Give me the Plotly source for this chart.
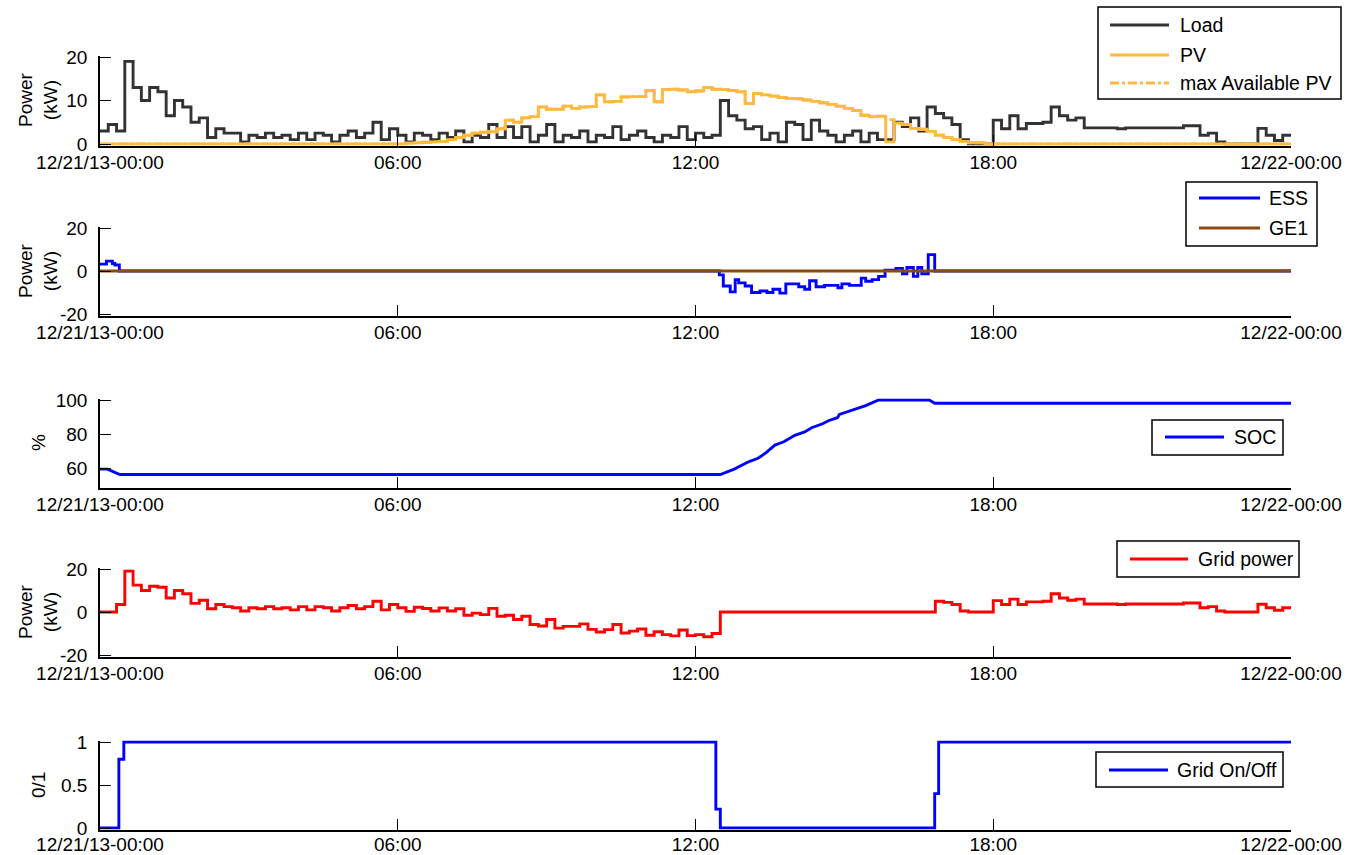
import pandas as pd
import plotly.graph_objects as go

W, H = 1356, 855
L, R = 100, 1291  # horizontal extent of the axes, px

DAY0 = pd.Timestamp("2013-12-21 00:00")

# ---- data -----------------------------------------------------------------
# 10-minute samples from 00:00 to 24:00 (145 points, step-held)
load_kw = [
    3, 4.5, 3, 19, 13, 10, 13, 12, 6.5, 10,
    8.5, 5, 6, 1.5, 3.5, 2.5, 2.5, 0.5, 2, 1.5,
    2.5, 1.5, 2, 1, 2.5, 1, 2.5, 2, 0.5, 2,
    3, 1.5, 2.5, 5, 1, 3.5, 2, 0.5, 2.5, 2,
    1, 2.5, 1.5, 3, 0.5, 2, 1.5, 4.5, 1.5, 4,
    1.5, 4, 0.5, 2, 4.5, 0.5, 2, 1.5, 3, 0.5,
    2, 1.5, 4, 1, 2, 3, 1.5, 0.5, 2, 1.5,
    4, 1, 2.5, 1.5, 2, 10, 6.5, 5.5, 3.5, 4,
    1, 2.5, 0.5, 5, 4.5, 1, 5.5, 3, 2, 0.5,
    2, 3, 0.5, 2.5, 1, 1, 5, 4, 6, 3,
    8.5, 7, 6, 4.5, 1, 0, 0, 0, 5.5, 3.5,
    6.5, 3.5, 4.7, 4.7, 5, 8.5, 6.5, 5.5, 6, 3.7,
    3.7, 3.7, 3.7, 3.5, 3.7, 3.7, 3.7, 3.7, 3.7, 3.7,
    3.7, 4.2, 4.2, 2, 2.5, 0.5, 0, 0, 0, 0,
    3.6, 2, 0.8, 2, 2,
]

pv_kw = [
    0, 0, 0, 0, 0, 0, 0, 0, 0, 0,
    0, 0, 0, 0, 0, 0, 0, 0, 0, 0,
    0, 0, 0, 0, 0, 0, 0, 0, 0, 0,
    0, 0, 0, 0, 0, 0, 0,
    0.2, 0.3, 0.4, 0.5, 0.6, 1.0, 1.5, 2.0, 2.5, 2.7, 2.8,
    3.5, 5.5, 5.0, 6.0, 6.3, 8.5, 8.0, 8.0, 8.7, 8.2, 8.5, 8.6,
    11.3, 9.7, 9.8, 10.8, 10.9, 10.9, 12.3, 9.7, 12.5, 12.6, 12.4, 12.0,
    12.2, 13.0, 12.6, 12.5, 12.3, 12.0, 9.3, 11.6, 11.3, 11.0, 10.7, 10.5,
    10.4, 10.1, 9.8, 9.5, 9.1, 8.7, 8.2, 7.7, 6.6, 6.3, 6.4, 0.5,
    4.8, 4.5, 3.6, 3.4, 2.9, 2.0, 1.5, 1.0, 0.6, 0.3, 0.3, 0,
    0, 0, 0, 0, 0, 0, 0, 0, 0, 0,
    0, 0, 0, 0, 0, 0, 0, 0, 0, 0,
    0, 0, 0, 0, 0, 0, 0, 0, 0, 0,
    0, 0, 0, 0, 0, 0, 0,
]

pv_max_kw = [
    0, 0, 0, 0, 0, 0, 0, 0, 0, 0,
    0, 0, 0, 0, 0, 0, 0, 0, 0, 0,
    0, 0, 0, 0, 0, 0, 0, 0, 0, 0,
    0, 0, 0, 0, 0, 0, 0,
    0.2, 0.3, 0.4, 0.5, 0.6, 1.0, 1.5, 2.0, 2.5, 2.7, 2.8,
    3.5, 5.5, 5.0, 6.0, 6.3, 8.5, 8.0, 8.0, 8.7, 8.2, 8.5, 8.6,
    11.3, 9.7, 9.8, 10.8, 10.9, 10.9, 12.3, 9.7, 12.5, 12.6, 12.4, 12.0,
    12.2, 13.0, 12.6, 12.5, 12.3, 12.0, 9.3, 11.6, 11.3, 11.0, 10.7, 10.5,
    10.4, 10.1, 9.8, 9.5, 9.1, 8.7, 8.2, 7.7, 6.6, 6.3, 6.4, 5.6,
    4.8, 4.5, 3.6, 3.4, 2.9, 2.0, 1.5, 1.0, 0.6, 0.3, 0.3, 0,
    0, 0, 0, 0, 0, 0, 0, 0, 0, 0,
    0, 0, 0, 0, 0, 0, 0, 0, 0, 0,
    0, 0, 0, 0, 0, 0, 0, 0, 0, 0,
    0, 0, 0, 0, 0, 0, 0,
]

grid_kw = [
    0, 0, 3.5, 19, 12.5, 10, 12, 11.5, 6.5, 10,
    8.5, 4, 5.5, 1.5, 3.5, 2.5, 2, 0.5, 2, 1.5,
    2.5, 1.5, 2, 1, 2.5, 1, 2.5, 2, 0.5, 2,
    3, 1.5, 2.5, 5, 1, 3.5, 2, 0.3, 2.2, 1.6,
    0.5, 1.9, 0.5, 1.5, -1.5, -0.5, -1.2, 1.7, -2, -1.5,
    -3.5, -2, -5.8, -6.5, -3.5, -7.5, -6.7, -6.7, -5.5, -8.1,
    -9.3, -8.2, -5.8, -9.8, -8.9, -7.9, -10.8, -9.2, -10.5, -11.1,
    -8.4, -11, -10.5, -11.5, -10, 0, 0, 0, 0, 0,
    0, 0, 0, 0, 0, 0, 0, 0, 0, 0,
    0, 0, 0, 0, 0, 0, 0, 0, 0, 0,
    0, 5, 4.5, 3.5, 0.5, 0, 0, 0, 5.3, 3.5,
    6, 3.5, 4.7, 4.7, 5, 8.5, 6.5, 5.5, 6, 3.7,
    3.7, 3.7, 3.7, 3.5, 3.7, 3.7, 3.7, 3.7, 3.7, 3.7,
    3.7, 4.2, 4.2, 2, 2.5, 0.5, 0, 0, 0, 0,
    3.6, 2, 0.8, 2, 2,
]

# battery (ESS) power, step-held from each time (hours)
ess_hours = [0, 0.13, 0.25, 0.3, 0.39, 12.48, 12.56, 12.7, 12.8, 12.87,
             13.0, 13.13, 13.3, 13.44, 13.56, 13.7, 13.82, 14.08, 14.2, 14.3,
             14.43, 14.6, 14.87, 14.95, 15.1, 15.34, 15.43, 15.56, 15.69, 15.82,
             16.04, 16.17, 16.26, 16.39, 16.48, 16.56, 16.69, 16.82, 24]
ess_kw = [3.2, 4.6, 3.5, 2.8, 0, -1.8, -7, -9.7, -4, -5.5,
          -7, -10, -9.3, -10, -8.5, -10.3, -6, -7.3, -8.5, -4.5,
          -7.3, -6.7, -7.8, -6, -6.7, -3.3, -4.8, -4, -2.5, 0.4,
          1.2, -1.3, 1.6, -2.5, 1.6, -1.3, 7.6, 0, 0]

ge1_hours = [0, 24]
ge1_kw = [0, 0]

# state of charge
soc_hours = [0, 0.15, 0.4, 12.5, 12.78, 13.08, 13.26, 13.43, 13.6, 13.78,
             14.0, 14.2, 14.34, 14.56, 14.69, 14.86, 14.9, 15.17, 15.43, 15.69,
             16.71, 16.82, 24]
soc_pct = [59.8, 59.8, 56.7, 56.7, 59.8, 64.2, 66.1, 69.5, 73.8, 75.7,
           79.5, 81.4, 83.9, 86.2, 88.1, 89.7, 91.6, 94.3, 96.7, 100,
           100, 98.1, 98.1]

# grid connection status
onoff_hours = [0, 0.38, 0.48, 12.41, 12.5, 16.82, 16.9, 24]
grid_onoff = [0, 0.8, 1, 0.22, 0, 0.4, 1, 1]

tick_hours = [0, 6, 12, 18, 24]
tick_text = ["12/21/13-00:00", "06:00", "12:00", "18:00", "12/22-00:00"]

# ---- helpers --------------------------------------------------------------
t10 = pd.date_range(DAY0, periods=len(load_kw), freq="10min")


def at(hours):
    return [DAY0 + pd.Timedelta(hours=h) for h in hours]


def px(x, y):
    return (x - L) / (R - L), 1 - y / H


FONT = "Liberation Sans, Arial, Helvetica, sans-serif"
C_LOAD = "#333333"
C_PV = "#FFB940"
C_BLUE = "#0000FF"
C_BROWN = "#8C4A12"
C_RED = "#FF0000"
LW = 2.9

# panels: (top px, bottom px, value at top, value at bottom, tick values, tick text)
panels = [
    (57, 144, 20, 0, [0, 10, 20], ["0", "10", "20"]),
    (228, 314, 20, -20, [-20, 0, 20], ["-20", "0", "20"]),
    (400, 486, 100, 50, [60, 80, 100], ["60", "80", "100"]),
    (569, 655, 20, -20, [-20, 0, 20], ["-20", "0", "20"]),
    (742, 828, 1, 0, [0, 0.5, 1], ["0", "0.5", "1"]),
]

fig = go.Figure()


def add(k, x, y, color, shape="hv", dash="solid"):
    fig.add_trace(go.Scatter(
        x=x, y=y, mode="lines", showlegend=False, hoverinfo="skip",
        line=dict(color=color, width=LW, shape=shape, dash=dash),
        xaxis="x" if k == 1 else f"x{k}", yaxis="y" if k == 1 else f"y{k}",
    ))


add(1, t10, load_kw, C_LOAD)
add(1, t10, pv_kw, C_PV)
add(1, t10, pv_max_kw, C_PV, dash="dashdot")
add(2, at(ess_hours), ess_kw, C_BLUE)
add(2, at(ge1_hours), ge1_kw, C_BROWN)
add(3, at(soc_hours), soc_pct, C_BLUE, shape="linear")
add(4, t10, grid_kw, C_RED)
add(5, at(onoff_hours), grid_onoff, C_BLUE)

layout = dict(
    width=W, height=H, autosize=False,
    margin=dict(l=L, r=W - R, t=0, b=0, pad=0, autoexpand=False),
    paper_bgcolor="white", plot_bgcolor="white",
    font=dict(family=FONT, size=19, color="black"),
    shapes=[], annotations=[],
)

PAD = 1.5
for k, (top, bot, vtop, vbot, tv, tt) in enumerate(panels, start=1):
    ppu = (bot - top) / (vtop - vbot)
    sfx = "" if k == 1 else str(k)
    layout[f"xaxis{sfx}"] = dict(
        domain=[0, 1], anchor=f"y{sfx}", automargin=False,
        range=[DAY0, DAY0 + pd.Timedelta(hours=24)],
        tickmode="array", tickvals=at(tick_hours), ticktext=tick_text,
        ticks="inside", ticklen=11, tickwidth=1.3, tickcolor="black",
        showline=True, linecolor="black", linewidth=1.5,
        showgrid=False, zeroline=False,
        ticklabelstandoff=-3 if k == len(panels) else -1,
        tickfont=dict(size=19, family=FONT, color="black"),
    )
    layout[f"yaxis{sfx}"] = dict(
        domain=[1 - (bot + PAD) / H, 1 - (top - PAD) / H], anchor=f"x{sfx}",
        automargin=False,
        range=[vbot - PAD / ppu, vtop + PAD / ppu],
        tickmode="array", tickvals=tv, ticktext=tt,
        ticks="inside", ticklen=11, tickwidth=1.3, tickcolor="black",
        showline=True, linecolor="black", linewidth=1.5,
        showgrid=False, zeroline=False, ticklabelstandoff=7,
        tickfont=dict(size=19, family=FONT, color="black"),
    )

# y-axis titles
ytitles = [("Power<br>(kW)", 100), ("Power<br>(kW)", 271), ("%", 443),
           ("Power<br>(kW)", 612), ("0/1", 785)]
for text, yc in ytitles:
    xp, yp = px(38, yc)
    layout["annotations"].append(dict(
        text=text, x=xp, y=yp, xref="paper", yref="paper", showarrow=False,
        textangle=-90, xanchor="center", yanchor="middle",
        font=dict(size=19, family=FONT, color="black"),
    ))

# legend boxes: (box px, line x0, line x1, text x, entries)
legends = [
    ((1098, 7, 1341, 99), 1110, 1169, 1178,
     [("Load", C_LOAD, "solid", 25), ("PV", C_PV, "solid", 55),
      ("max Available PV", C_PV, "dashdot", 83)]),
    ((1186, 182, 1317, 246), 1199, 1260, 1267,
     [("ESS", C_BLUE, "solid", 198), ("GE1", C_BROWN, "solid", 228)]),
    ((1152, 420, 1283, 455), 1165, 1224, 1232,
     [("SOC", C_BLUE, "solid", 437)]),
    ((1117, 541, 1299, 577), 1130, 1188, 1196,
     [("Grid power", C_RED, "solid", 559)]),
    ((1096, 752, 1283, 787), 1109, 1168, 1175,
     [("Grid On/Off", C_BLUE, "solid", 770)]),
]
for (bx0, by0, bx1, by1), lx0, lx1, tx, entries in legends:
    x0, y0 = px(bx0, by0)
    x1, y1 = px(bx1, by1)
    layout["shapes"].append(dict(
        type="rect", xref="paper", yref="paper", x0=x0, y0=y1, x1=x1, y1=y0,
        line=dict(color="black", width=1.5), fillcolor="white", layer="above",
    ))
    for label, color, dash, ly in entries:
        a0, yy = px(lx0, ly)
        a1, _ = px(lx1, ly)
        layout["shapes"].append(dict(
            type="line", xref="paper", yref="paper", x0=a0, x1=a1, y0=yy, y1=yy,
            line=dict(color=color, width=LW, dash=dash), layer="above",
        ))
        txp, _ = px(tx, ly)
        layout["annotations"].append(dict(
            text=label, x=txp, y=yy, xref="paper", yref="paper", showarrow=False,
            xanchor="left", yanchor="middle",
            font=dict(size=19.5, family=FONT, color="black"),
        ))

fig.update_layout(**layout)
fig.write_html("out.html")
